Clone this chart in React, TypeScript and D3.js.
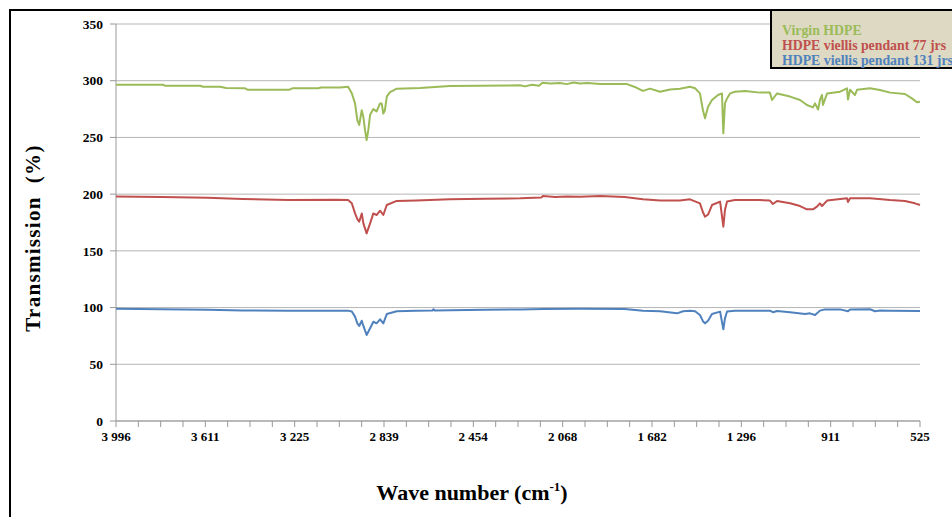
import * as d3 from 'd3'

// FTIR spectra of HDPE, offset by 100 % per sample
const waveTicks = [3996, 3611, 3225, 2839, 2454, 2068, 1682, 1296, 911, 525]
const yTicks = [0, 50, 100, 150, 200, 250, 300, 350]
const seriesNames = ['Virgin HDPE', 'HDPE viellis pendant 77 jrs', 'HDPE viellis pendant 131 jrs']
const seriesColors = ['#9bbb59', '#c0504d', '#4f81bd']

const virgin: [number, number][] = [
  [3996, 296.5], [3793, 296.5], [3785, 295.6], [3633, 295.6], [3620, 294.7], [3547, 294.7],
  [3520, 293.5], [3439, 293.3], [3426, 292], [3249, 292], [3235, 293.3], [3124, 293.3],
  [3110, 294], [3029, 294], [2994, 294.7], [2978, 289], [2964, 280], [2954, 265], [2946, 261],
  [2935, 274], [2928, 268], [2921, 256.5], [2914, 247.7], [2907, 256], [2899, 270], [2885, 275],
  [2871, 273], [2856, 280], [2849, 280], [2842, 271], [2835, 274], [2827, 286], [2813, 290],
  [2784, 293], [2684, 293.5], [2554, 295.3], [2425, 295.5], [2300, 295.8], [2252, 296],
  [2230, 295], [2200, 296.5], [2170, 295.5], [2155, 298.3], [2120, 297.5], [2080, 298],
  [2050, 297], [2020, 298.5], [1993, 297.5], [1960, 298], [1906, 297.2], [1850, 297],
  [1790, 297], [1750, 294], [1721, 291], [1691, 293], [1647, 290.3], [1604, 292.3], [1561, 293],
  [1518, 294.7], [1496, 293.3], [1475, 288.8], [1462, 274], [1453, 266.8], [1440, 277],
  [1423, 283], [1397, 287.4], [1380, 288.8], [1374, 253.6], [1367, 280], [1358, 284.4],
  [1345, 288.8], [1324, 290.3], [1280, 291], [1216, 289.5], [1173, 289.5], [1164, 283],
  [1142, 288.8], [1086, 286], [1043, 283], [1013, 278.6], [987, 276.5], [978, 280], [965, 274.6],
  [957, 283], [948, 287.4], [944, 278.6], [926, 288.8], [870, 290.3], [840, 293.3], [836, 283.5],
  [827, 292], [806, 287.4], [797, 292], [741, 293.3], [698, 291.8], [654, 289.5], [590, 288.3],
  [560, 284.4], [538, 281], [525, 281.5],
]

const aged77: [number, number][] = [
  [3996, 197.9], [3800, 197.5], [3600, 196.8], [3450, 195.8], [3250, 194.8], [3050, 195],
  [2994, 194.8], [2978, 192], [2964, 183], [2954, 178], [2946, 175.7], [2935, 183], [2928, 174.2],
  [2914, 165.4], [2899, 174.2], [2885, 183], [2871, 181.6], [2856, 185.4], [2842, 181.6],
  [2827, 190.4], [2784, 194], [2700, 194.5], [2554, 195.4], [2400, 196], [2250, 196.3],
  [2160, 197], [2153, 198.3], [2100, 197.5], [2050, 198], [1993, 197.8], [1906, 198.3],
  [1800, 197.5], [1721, 195.4], [1647, 194.3], [1561, 194.3], [1518, 195.4], [1475, 191.9],
  [1462, 184], [1453, 180.1], [1440, 182], [1423, 190.4], [1388, 193.4], [1374, 171.3],
  [1367, 186], [1358, 193.5], [1324, 194.8], [1216, 194.8], [1173, 194.3], [1160, 191.3],
  [1142, 194], [1086, 191.9], [1043, 189.5], [1013, 186.6], [987, 186.6], [970, 189],
  [957, 191.9], [948, 189.5], [926, 194.3], [840, 196.3], [836, 193], [827, 196.3], [741, 196.3],
  [654, 194.8], [590, 194], [547, 191.9], [525, 190.4],
]

const aged131: [number, number][] = [
  [3996, 99], [3800, 98.6], [3600, 98], [3450, 97.5], [3250, 97.3], [2994, 97.3], [2978, 96.5],
  [2964, 92], [2954, 86], [2946, 83.8], [2935, 88.4], [2928, 83.8], [2914, 75.8], [2899, 81.7],
  [2885, 87.5], [2871, 86.1], [2856, 89.6], [2842, 86.1], [2827, 94.3], [2784, 96.8], [2700, 97.3],
  [2630, 97.4], [2625, 98.5], [2620, 97.4], [2554, 97.6], [2400, 98], [2250, 98.4], [2150, 98.8],
  [2000, 99], [1800, 98.8], [1721, 97.3], [1647, 96.8], [1574, 94.9], [1548, 96.8], [1518, 97.3],
  [1496, 96.8], [1475, 93.4], [1462, 88], [1453, 86.1], [1440, 88.4], [1423, 94.3], [1388, 96.4],
  [1374, 80.8], [1367, 90.5], [1358, 96.5], [1324, 97.3], [1173, 97.3], [1160, 95.9], [1142, 97],
  [1086, 95.9], [1021, 94.3], [1000, 94.9], [978, 93.4], [957, 97.3], [935, 98.4], [870, 98.4],
  [836, 96.8], [827, 98.4], [741, 98.5], [719, 96.8], [698, 97.5], [654, 97.3], [525, 97],
]

const W = 952
const H = 517
const margin = { left: 116, right: 32, top: 24, bottom: 96 }
const serif = '"Liberation Serif", "Times New Roman", serif'

export default function App() {
  const x = d3.scaleLinear().domain([3996, 525]).range([margin.left, W - margin.right])
  const y = d3.scaleLinear().domain([0, 350]).range([H - margin.bottom, margin.top])
  const line = d3.line<[number, number]>().x(d => x(d[0])).y(d => y(d[1]))
  const step = (3996 - 525) / 36
  const minorTicks = d3.range(37).map(i => 3996 - i * step)
  const series = [virgin, aged77, aged131]

  return (
    <svg width={W} height={H} style={{ position: 'absolute', left: 0, top: 0 }} fontFamily={serif}>
      <rect x={0} y={0} width={W} height={H} fill="white" />
      <rect x={10} y={10} width={W + 20} height={H + 20} fill="none" stroke="black" strokeWidth={2} />

      <g>
        {yTicks.map(t => (
          <g key={t}>
            <line x1={margin.left} x2={W - margin.right} y1={y(t)} y2={y(t)} stroke="#b5b5b5" />
            <line x1={margin.left - 6} x2={margin.left} y1={y(t)} y2={y(t)} stroke="#999" />
            <text x={margin.left - 13} y={y(t)} dy="0.35em" textAnchor="end" fontSize={13.5} fontWeight="bold">
              {t}
            </text>
          </g>
        ))}
        <line x1={margin.left} x2={margin.left} y1={y(350)} y2={y(0)} stroke="#999" />
      </g>

      <g>
        <line x1={margin.left} x2={W - margin.right} y1={y(0)} y2={y(0)} stroke="#999" />
        {minorTicks.map((t, i) => (
          <line key={i} x1={x(t)} x2={x(t)} y1={y(0)} y2={y(0) + 6} stroke="#999" />
        ))}
        {waveTicks.map(t => (
          <text key={t} x={x(t)} y={y(0) + 20} textAnchor="middle" fontSize={13} fontWeight="bold">
            {d3.format(',')(t).replace(',', ' ')}
          </text>
        ))}
      </g>

      {series.map((s, i) => (
        <path key={i} d={line(s) ?? ''} fill="none" stroke={seriesColors[i]} strokeWidth={2} strokeLinejoin="round" />
      ))}

      <text
        transform={`translate(40, 238) rotate(-90)`}
        textAnchor="middle"
        fontSize={21}
        fontWeight="bold"
        letterSpacing={1.3}
        style={{ whiteSpace: 'pre' }}
      >
        {'Transmission  (%)'}
      </text>
      <text x={472} y={500} textAnchor="middle" fontSize={22} fontWeight="bold">
        Wave number (cm<tspan dy={-9} fontSize={13}>-1</tspan><tspan dy={9}>)</tspan>
      </text>

      <g>
        <rect x={771} y={10} width={200} height={58} fill="#ddd9c3" stroke="black" strokeWidth={2} />
        {seriesNames.map((n, i) => (
          <text key={n} x={782} y={35 + i * 15} fontSize={13.8} fontWeight="bold" fill={seriesColors[i]}>
            {n}
          </text>
        ))}
      </g>
    </svg>
  )
}
